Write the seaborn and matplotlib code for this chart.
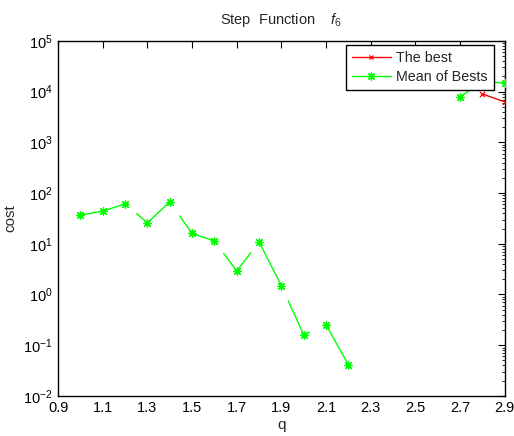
import numpy as np
import pandas as pd
import matplotlib
matplotlib.use("Agg")
import matplotlib.pyplot as plt
from matplotlib.lines import Line2D
from matplotlib.collections import LineCollection
import seaborn as sns

# ---- data ----
q = [1.0, 1.1, 1.2, 1.3, 1.4, 1.5, 1.6, 1.7, 1.8, 1.9, 2.0,
     2.1, 2.2, 2.3, 2.4, 2.5, 2.6, 2.7, 2.8, 2.9]
best = [np.nan] * 18 + [9000, 6300]
mean_best = [37, 44, 61, 26, 67, 16, 11.4, 2.9, 10.9, 1.48, 0.159,
             0.25, 0.041, np.nan, np.nan, np.nan, np.nan, 7900, 15600, 14900]
xticks = [0.9, 1.1, 1.3, 1.5, 1.7, 1.9, 2.1, 2.3, 2.5, 2.7, 2.9]

# visible portion of each green segment (rendering gaps in the reference)
green_vis = [(0, 1), (0, 1), (0.5, 1), (0, 1), (0.43, 1), (0, 1), (0.4, 1),
             (0, 0.64), (0, 1), (0.3, 1), (0, 0.27), (0, 1), (0, 1),
             (0, 1), (0, 1), (0, 1), (0, 1), (0, 1), (0, 1)]

sns.set_style("white")
plt.rcParams["font.family"] = ["Liberation Sans", "DejaVu Sans"]
plt.rcParams["mathtext.fontset"] = "custom"
plt.rcParams["mathtext.rm"] = "Liberation Sans"
plt.rcParams["mathtext.it"] = "Liberation Sans:italic"

df = pd.DataFrame({"q": q, "best": best, "mean": mean_best})

fig = plt.figure(figsize=(5.14, 4.36), dpi=100)
ax = fig.add_axes([0.113, 0.092, 0.869, 0.814])
ax.set_yscale("log")

RED = (1, 0, 0)
GREEN = (0, 1, 0)
STAR = (8, 2, 0)


def segments(xs, ys, vis):
    segs = []
    for i in range(len(xs) - 1):
        x0, x1 = xs[i], xs[i + 1]
        y0, y1 = ys[i], ys[i + 1]
        if np.isnan(y0) or np.isnan(y1):
            continue
        a, b = vis[i] if vis is not None else (0, 1)
        l0, l1 = np.log10(y0), np.log10(y1)
        pa = (x0 + a * (x1 - x0), 10 ** (l0 + a * (l1 - l0)))
        pb = (x0 + b * (x1 - x0), 10 ** (l0 + b * (l1 - l0)))
        segs.append([pa, pb])
    return segs


ax.add_collection(LineCollection(segments(q, best, None), colors=[RED], linewidths=1.0))
ax.add_collection(LineCollection(segments(q, mean_best, green_vis), colors=[GREEN], linewidths=1.0))

sns.scatterplot(data=df, x="q", y="best", ax=ax, marker="x", color=RED, s=14,
                linewidth=0.9, legend=False, zorder=3)
sns.scatterplot(data=df, x="q", y="mean", ax=ax, marker=STAR, color=GREEN, s=32,
                edgecolor=GREEN, linewidth=0.9, legend=False, zorder=3)

ax.set_xlim(0.9, 2.9)
ax.set_ylim(1e-2, 1e5)
ax.set_xticks(xticks)
ax.set_xticklabels([f"{t:.1f}" for t in xticks])
ax.set_yticks([10.0 ** k for k in range(-2, 6)])
ax.tick_params(axis="both", which="both", direction="in", top=True, right=True,
               labelsize=10.5, colors="black")
ax.tick_params(axis="both", which="major", length=5, width=0.8, pad=4)
ax.tick_params(axis="y", which="minor", length=2.5, width=0.6)
ax.tick_params(axis="x", which="minor", bottom=False, top=False)
for s in ax.spines.values():
    s.set_color("black")
    s.set_linewidth(1.0)

ax.set_xlabel("q", fontsize=11, labelpad=2)
ax.set_ylabel("cost", fontsize=11, labelpad=4)
ax.set_title("Step  Function    $f_6$", fontsize=10.5, pad=12)

handles = [
    Line2D([], [], color=RED, marker="x", markersize=3.5, markeredgewidth=0.9,
           linewidth=1.0, label="The best"),
    Line2D([], [], color=GREEN, marker=STAR, markersize=6, markeredgewidth=0.9,
           linewidth=1.0, label="Mean of Bests"),
]
leg = ax.legend(handles=handles, loc="upper right", bbox_to_anchor=(0.975, 0.989),
                borderaxespad=0, fancybox=False, framealpha=1, edgecolor="black",
                fontsize=10.3, handlelength=2.7, borderpad=0.4, labelspacing=0.4,
                handletextpad=0.4)
leg.get_frame().set_linewidth(1.0)
leg.set_zorder(5)

fig.savefig("out.png", dpi=100)
